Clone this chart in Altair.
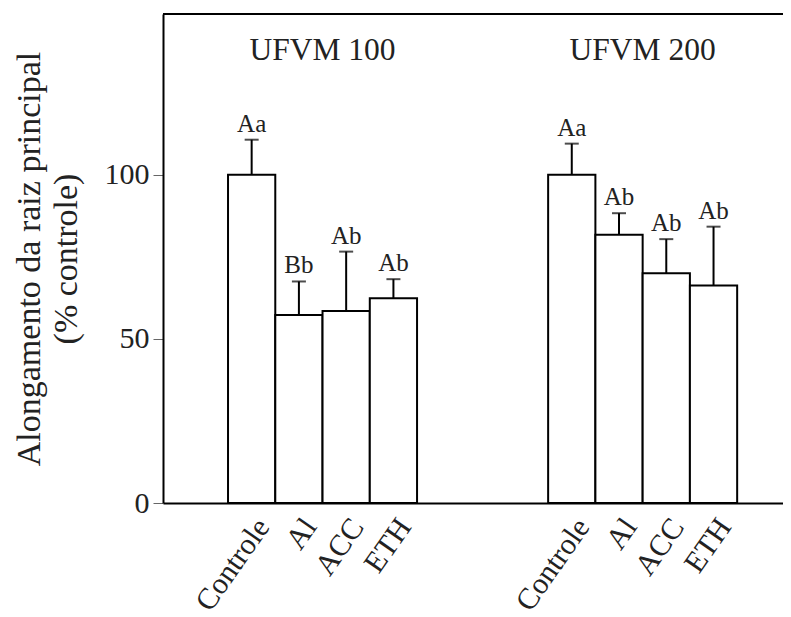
import altair as alt
import pandas as pd

# ---- data ----
groups = ["UFVM 100", "UFVM 200"]
treatments = ["Controle", "Al", "ACC", "ETH"]
means_100 = [100.0, 57.3, 58.5, 62.4]
errs_100 = [10.7, 10.2, 18.1, 5.8]
means_200 = [100.0, 81.7, 70.0, 66.3]
errs_200 = [9.5, 6.6, 10.4, 17.9]
letters_100 = ["Aa", "Bb", "Ab", "Ab"]
letters_200 = ["Aa", "Ab", "Ab", "Ab"]
y_ticks = [0, 50, 100]

# ---- layout (bar units along x) ----
W, H = 620, 489
X_MAX = 13.12
group_start = [1.376, 8.15]
LABEL_SHIFT = 0.40
FONT = "'Liberation Serif', 'Times New Roman', Times, serif"
TXT = "#222222"

rows = []
for g, (m, e, l) in enumerate([(means_100, errs_100, letters_100),
                               (means_200, errs_200, letters_200)]):
    for i, t in enumerate(treatments):
        x0 = group_start[g] + i
        rows.append(dict(group=groups[g], trat=t, x0=x0, x1=x0 + 1, xc=x0 + 0.5,
                         xl=x0 + 0.5 + LABEL_SHIFT,
                         mean=m[i], top=m[i] + e[i], letter=l[i]))
df = pd.DataFrame(rows)
gdf = pd.DataFrame({"group": groups,
                    "xc": [s + len(treatments) / 2 for s in group_start]})

xs = alt.Scale(domain=[0, X_MAX], nice=False, zero=False)
ys = alt.Scale(domain=[0, 149], nice=False)

base = alt.Chart(df)

bars = base.mark_rect(fill="white", stroke="black", strokeWidth=2).encode(
    x=alt.X("x0:Q", scale=xs,
            axis=alt.Axis(labels=False, ticks=False, title=None, grid=False,
                          domainColor="black", domainWidth=2)),
    x2="x1:Q",
    y=alt.Y("mean:Q", scale=ys,
            axis=alt.Axis(values=y_ticks, grid=False, domainColor="black",
                          domainWidth=2, tickColor="#666666", tickWidth=1,
                          tickSize=10, labelFont=FONT, labelFontSize=30,
                          labelColor=TXT, labelPadding=4,
                          title=["Alongamento da raiz principal", "(% controle)"],
                          titleFont=FONT, titleFontSize=34,
                          titleFontWeight="normal", titleColor=TXT,
                          titleLineHeight=37, titlePadding=21)),
    y2=alt.datum(0),
)

err = base.mark_rule(color="black", strokeWidth=2).encode(
    x=alt.X("xc:Q", scale=xs), y=alt.Y("mean:Q", scale=ys), y2="top:Q")

caps = base.mark_tick(color="black", orient="horizontal", size=14,
                      thickness=2).encode(
    x=alt.X("xc:Q", scale=xs), y=alt.Y("top:Q", scale=ys))

letters = base.mark_text(font=FONT, fontSize=25, color=TXT, baseline="bottom",
                         dy=-3).encode(
    x=alt.X("xc:Q", scale=xs), y=alt.Y("top:Q", scale=ys), text="letter:N")

xlabels = base.mark_text(font=FONT, fontSize=30, color=TXT, align="right",
                         baseline="alphabetic", angle=305).encode(
    x=alt.X("xl:Q", scale=xs), y=alt.value(H + 24), text="trat:N")

gtitles = alt.Chart(gdf).mark_text(font=FONT, fontSize=31.5, color=TXT,
                                   baseline="alphabetic").encode(
    x=alt.X("xc:Q", scale=xs), y=alt.value(46), text="group:N")

top_rule = alt.Chart(gdf).mark_rule(color="black", strokeWidth=2).encode(
    x=alt.value(0), x2=alt.value(W), y=alt.value(0))

chart = alt.layer(bars, err, caps, letters, xlabels, gtitles, top_rule).properties(
    width=W, height=H,
    autosize=alt.AutoSizeParams(type="none"),
    padding={"left": 155, "top": 6, "right": 0, "bottom": 114},
).configure_view(stroke=None).configure(background="white")

chart.save("out.html", embed_options={"renderer": "svg", "actions": False})
